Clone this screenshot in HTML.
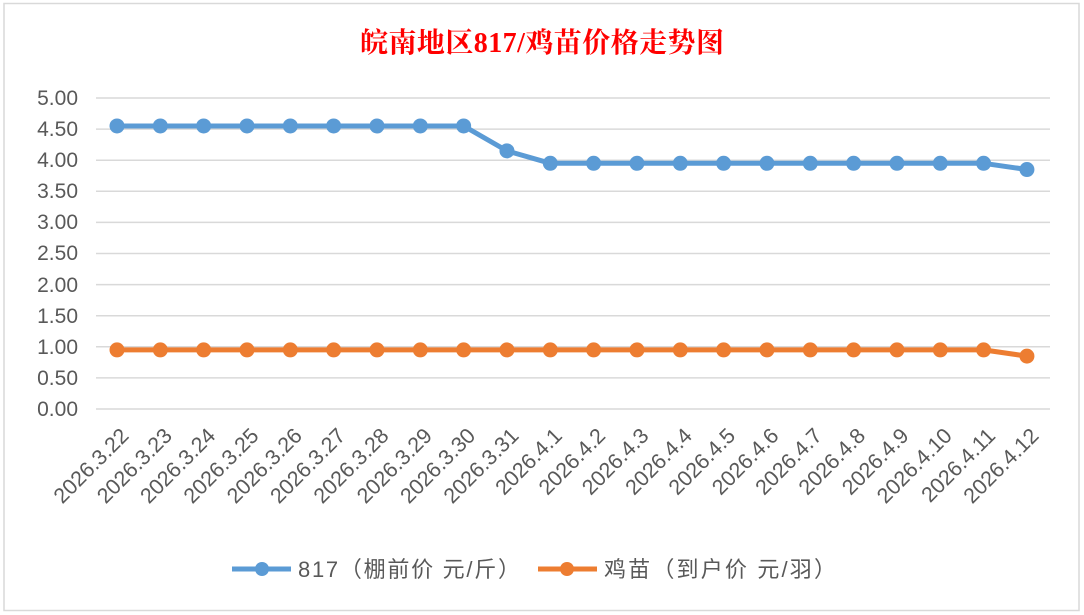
<!DOCTYPE html>
<html><head><meta charset="utf-8"><style>
body{margin:0;background:#fff;}
svg{display:block;font-family:"Liberation Sans","Noto Sans CJK SC",sans-serif;}
</style></head><body>
<svg width="1084" height="615" viewBox="0 0 1084 615">
<rect x="0" y="0" width="1084" height="615" fill="#fff"/>
<rect x="4" y="3.5" width="1075" height="607" fill="#fff" stroke="#d9d9d9" stroke-width="1.5"/>
<text x="542" y="52" text-anchor="middle" font-size="28" font-weight="bold" fill="#ff0000" font-family="'Liberation Serif','Noto Serif CJK SC',serif" textLength="364">皖南地区817/鸡苗价格走势图</text>
<g stroke="#d9d9d9" stroke-width="1.5">
<line x1="96" x2="1050" y1="98" y2="98"/><line x1="96" x2="1050" y1="129.1" y2="129.1"/>
<line x1="96" x2="1050" y1="160.2" y2="160.2"/><line x1="96" x2="1050" y1="191.3" y2="191.3"/>
<line x1="96" x2="1050" y1="222.4" y2="222.4"/><line x1="96" x2="1050" y1="253.5" y2="253.5"/>
<line x1="96" x2="1050" y1="284.6" y2="284.6"/><line x1="96" x2="1050" y1="315.7" y2="315.7"/>
<line x1="96" x2="1050" y1="346.8" y2="346.8"/><line x1="96" x2="1050" y1="377.9" y2="377.9"/>
<line x1="96" x2="1050" y1="409" y2="409"/>
</g>
<g font-size="21" fill="#595959" text-anchor="end">
<text x="78" y="105">5.00</text><text x="78" y="136">4.50</text><text x="78" y="167">4.00</text>
<text x="78" y="198">3.50</text><text x="78" y="229">3.00</text><text x="78" y="260">2.50</text>
<text x="78" y="292">2.00</text><text x="78" y="323">1.50</text><text x="78" y="354">1.00</text>
<text x="78" y="385">0.50</text><text x="78" y="416">0.00</text>
</g>
<g id="labels" font-size="21.5" fill="#595959" text-anchor="end"></g>
<polyline id="b" fill="none" stroke="#5b9bd5" stroke-width="5" stroke-linejoin="round"/>
<polyline id="o" fill="none" stroke="#ed7d31" stroke-width="5" stroke-linejoin="round"/>
<g id="bm" fill="#5b9bd5"></g><g id="om" fill="#ed7d31"></g>
<line x1="232" x2="291" y1="569" y2="569" stroke="#5b9bd5" stroke-width="5"/>
<circle cx="262" cy="569" r="7" fill="#5b9bd5"/>
<text x="298" y="577" font-size="22" fill="#595959" textLength="222">817（棚前价 元/斤）</text>
<line x1="538" x2="597" y1="569" y2="569" stroke="#ed7d31" stroke-width="5"/>
<circle cx="567" cy="569" r="7" fill="#ed7d31"/>
<text x="604" y="577" font-size="22" fill="#595959" textLength="232">鸡苗（到户价 元/羽）</text>
</svg>
<script>
var labs=["2026.3.22","2026.3.23","2026.3.24","2026.3.25","2026.3.26","2026.3.27","2026.3.28","2026.3.29","2026.3.30","2026.3.31","2026.4.1","2026.4.2","2026.4.3","2026.4.4","2026.4.5","2026.4.6","2026.4.7","2026.4.8","2026.4.9","2026.4.10","2026.4.11","2026.4.12"];
var b=[4.55,4.55,4.55,4.55,4.55,4.55,4.55,4.55,4.55,4.15,3.95,3.95,3.95,3.95,3.95,3.95,3.95,3.95,3.95,3.95,3.95,3.85];
var o=[];for(var i=0;i<22;i++)o.push(i==21?0.85:0.95);
var ns="http://www.w3.org/2000/svg",pb=[],po=[];
function Y(v){return 409-v*62.2;}
for(var i=0;i<22;i++){var x=117+i*43.33;
pb.push(x+","+Y(b[i]));po.push(x+","+Y(o[i]));
[["bm",b],["om",o]].forEach(function(s){var c=document.createElementNS(ns,"circle");c.setAttribute("cx",x);c.setAttribute("cy",Y(s[1][i]));c.setAttribute("r",7.5);document.getElementById(s[0]).appendChild(c);});
var t=document.createElementNS(ns,"text");t.textContent=labs[i];t.setAttribute("transform","translate("+(x+13)+",437) rotate(-45)");document.getElementById("labels").appendChild(t);}
document.getElementById("b").setAttribute("points",pb.join(" "));
document.getElementById("o").setAttribute("points",po.join(" "));
</script>
</body></html>
